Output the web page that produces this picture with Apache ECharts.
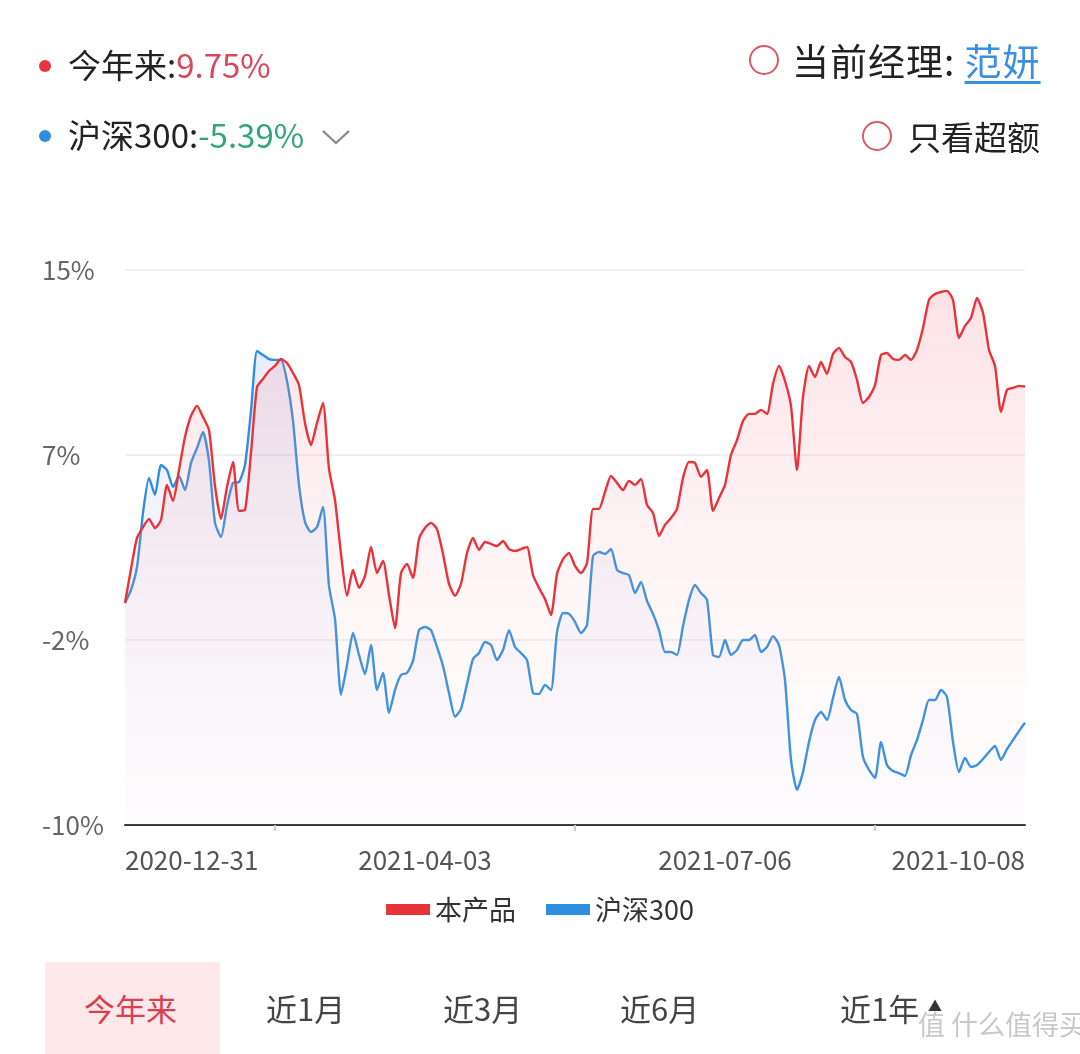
<!DOCTYPE html>
<html><head><meta charset="utf-8">
<script src="https://cdn.jsdelivr.net/npm/echarts@6/dist/echarts.min.js"></script>
<style>
html,body{margin:0;padding:0;background:#fff;width:1080px;height:1054px;overflow:hidden;font-family:"Noto Sans CJK SC","Noto Sans",sans-serif;}
#chart{position:absolute;left:0;top:0;width:1080px;height:1054px;}
.t{position:absolute;white-space:nowrap;line-height:1;z-index:2;color:#222;}
.dot{position:absolute;border-radius:50%;z-index:2;}
.ring{position:absolute;border-radius:50%;border:2px solid #d65b66;box-sizing:border-box;z-index:2;}
</style></head><body>
<div id="chart"></div>
<div class="dot" style="left:39px;top:60px;width:12px;height:12px;background:#e8333a"></div>
<div class="t" style="left:68px;top:48px;font-size:33px;">今年来:<span style="color:#d9475a">9.75%</span></div>
<div class="dot" style="left:39px;top:130px;width:12px;height:12px;background:#2e8fe0"></div>
<div class="t" style="left:68px;top:118px;font-size:33px;">沪深300:<span style="color:#35a57a">-5.39%</span></div>
<svg style="position:absolute;left:320px;top:127px;z-index:2" width="32" height="20"><polyline points="3,4 16,16 29,4" fill="none" stroke="#888" stroke-width="2.2"/></svg>
<div class="ring" style="left:749px;top:45px;width:30px;height:30px"></div>
<div class="t" style="left:792px;top:42px;font-size:37px;letter-spacing:1px;">当前经理: <span style="color:#3a8fe0;text-decoration:underline;text-underline-offset:5px">范妍</span></div>
<div class="ring" style="left:862px;top:121px;width:30px;height:30px"></div>
<div class="t" style="left:908px;top:120px;font-size:33px;">只看超额</div>
<div style="position:absolute;left:45px;top:962px;width:175px;height:92px;background:#fde8ea;z-index:1"></div>
<div class="t" style="left:84px;top:992px;font-size:31px;color:#d9404f">今年来</div>
<div class="t" style="left:266px;top:992px;font-size:31px;color:#444">近1月</div>
<div class="t" style="left:443px;top:992px;font-size:31px;color:#444">近3月</div>
<div class="t" style="left:620px;top:992px;font-size:31px;color:#444">近6月</div>
<div class="t" style="left:840px;top:992px;font-size:31px;color:#444">近1年</div>
<div class="t" style="left:928px;top:998px;font-size:14px;color:#333">▲</div>
<div class="t" style="left:918px;top:1010px;font-size:27px;color:#c8c8c8">值 什么值得买</div>
<script>
// ---- data ----
const startDate = '2020-12-31';
const spanDays = 281; // 2020-12-31 .. 2021-10-08
const pointCount = 151;
const yTicks = [-10, 15];
const seriesNames = ['本产品', '沪深300'];
const productValues = [0,1.53,2.93,3.42,3.79,3.38,3.74,5.32,4.60,5.99,
7.48,8.43,8.88,8.38,7.79,5.27,3.79,5.23,6.35,4.15,
4.19,6.76,9.73,10.09,10.45,10.68,10.99,10.81,10.36,9.82,
8.11,7.12,8.11,9.01,6.04,4.64,2.21,0.32,1.49,0.68,
1.22,2.52,1.35,1.89,0.36,-1.13,1.35,1.76,1.13,2.88,
3.38,3.61,3.33,2.21,0.86,0.32,0.86,2.25,2.93,2.39,
2.75,2.66,2.57,2.79,2.43,2.34,2.43,2.52,1.26,0.68,
0.18,-0.54,1.31,1.98,2.25,1.67,1.35,1.80,4.24,4.24,
5.00,5.72,5.41,5.09,5.50,5.32,5.59,4.42,4.06,3.02,
3.52,3.83,4.24,5.63,6.35,6.31,5.68,5.99,4.15,4.73,
5.32,6.67,7.34,8.20,8.52,8.52,8.70,8.52,9.87,10.68,
10.00,8.88,5.99,9.28,10.68,10.18,10.86,10.32,11.22,11.49,
11.08,10.86,10.05,9.01,9.28,9.82,11.17,11.26,10.99,10.95,
11.17,10.95,11.40,12.39,13.65,13.92,14.01,14.06,13.65,11.94,
12.48,12.84,13.74,13.07,11.40,10.68,8.61,9.60,9.69,9.78,
9.75];
const hs300Values = [0,0.59,1.62,4.06,5.63,4.87,6.22,5.99,5.23,5.72,
5.09,6.31,6.98,7.70,6.40,3.61,2.97,4.37,5.41,5.45,
6.22,8.65,11.35,11.17,10.99,10.95,10.95,10.00,8.20,5.32,
3.65,3.20,3.42,4.33,0.77,-0.72,-4.14,-2.79,-1.35,-2.34,
-3.20,-1.89,-3.92,-3.15,-4.95,-3.92,-3.24,-3.15,-2.61,-1.22,
-1.08,-1.22,-1.98,-2.84,-4.05,-5.13,-4.77,-3.65,-2.52,-2.25,
-1.76,-1.89,-2.57,-2.12,-1.22,-1.98,-2.25,-2.57,-4.05,-4.10,
-3.69,-3.92,-1.31,-0.45,-0.49,-0.85,-1.35,-0.99,2.12,2.30,
2.21,2.43,1.49,1.35,1.26,0.45,0.95,0.09,-0.49,-1.22,
-2.21,-2.21,-2.34,-1.04,0.14,0.81,0.45,0.14,-2.34,-2.43,
-1.67,-2.34,-2.12,-1.67,-1.67,-1.44,-2.21,-1.98,-1.49,-1.89,
-3.47,-7.07,-8.42,-7.61,-6.26,-5.27,-4.91,-5.27,-4.28,-3.33,
-4.37,-4.82,-5.00,-6.94,-7.52,-7.88,-6.26,-7.30,-7.57,-7.66,
-7.79,-6.85,-6.17,-5.27,-4.37,-4.37,-3.92,-4.23,-6.26,-7.61,
-6.98,-7.39,-7.30,-7.03,-6.71,-6.44,-7.07,-6.58,-6.17,-5.77,
-5.39];
const labelIndices = [0, 50, 100, 150];
const tickIndices = [25, 75, 125];

const categories = [];
(function(){
  const s = new Date(startDate + 'T00:00:00Z');
  for (let i = 0; i < pointCount; i++) {
    const d = new Date(s.getTime() + Math.floor(i * spanDays / (pointCount - 1) + 1e-9) * 86400000);
    categories.push(d.toISOString().slice(0, 10));
  }
})();

const chart = echarts.init(document.getElementById('chart'));
const FONT = '"Noto Sans CJK SC","Noto Sans",sans-serif';
chart.setOption({
  animation: false,
  textStyle: { fontFamily: FONT },
  grid: { left: 125, right: 55, top: 270, bottom: 229 },
  legend: {
    top: 891, left: 'center', itemWidth: 44, itemHeight: 11, itemGap: 30,
    textStyle: { fontSize: 27, color: '#333', fontFamily: FONT },
    data: [{ name: seriesNames[0], icon: 'rect' }, { name: seriesNames[1], icon: 'rect' }]
  },
  xAxis: {
    type: 'category', boundaryGap: false, data: categories,
    axisLine: { onZero: false, lineStyle: { color: '#333', width: 2 } },
    axisTick: { show: true, interval: (i) => tickIndices.includes(i), length: 6, lineStyle: { color: '#ccc', width: 2 } },
    axisLabel: {
      interval: (i) => labelIndices.includes(i), fontSize: 26, color: '#555', margin: 22,
      alignMinLabel: 'left', alignMaxLabel: 'right', showMinLabel: true, showMaxLabel: true
    },
    splitLine: { show: false }
  },
  yAxis: {
    type: 'value', min: yTicks[0], max: yTicks[1], interval: (yTicks[1] - yTicks[0]) / 3,
    axisLine: { show: false }, axisTick: { show: false },
    axisLabel: { fontSize: 26, color: '#666', align: 'left', margin: 83,
      formatter: (v) => Math.round(v) + '%' },
    splitLine: { lineStyle: { color: '#efefef', width: 2 } }
  },
  series: [
    {
      name: seriesNames[1], type: 'line', data: hs300Values, symbol: 'none', z: 2, smooth: 0.2,
      lineStyle: { color: '#2e8fe0', width: 2.4 }, itemStyle: { color: '#2e8fe0' },
      areaStyle: { origin: 'start', color: { type: 'linear', x: 0, y: 0, x2: 0, y2: 1, colorStops: [
        { offset: 0, color: 'rgba(110,130,225,0.22)' }, { offset: 1, color: 'rgba(200,205,240,0.04)' } ] } }
    },
    {
      name: seriesNames[0], type: 'line', data: productValues, symbol: 'none', z: 3, smooth: 0.2,
      lineStyle: { color: '#e8333a', width: 2.4 }, itemStyle: { color: '#e8333a' },
      areaStyle: { origin: 'start', color: { type: 'linear', x: 0, y: 0, x2: 0, y2: 1, colorStops: [
        { offset: 0, color: 'rgba(245,120,135,0.30)' }, { offset: 1, color: 'rgba(250,215,222,0.07)' } ] } }
    }
  ]
});
</script>
</body></html>
